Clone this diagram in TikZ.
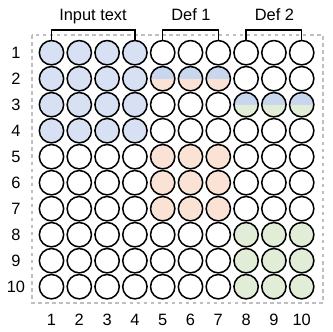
\documentclass[tikz,border=0pt]{standalone}
\usepackage{fontspec}
\setmainfont{Liberation Sans}
\definecolor{tokBlue}{RGB}{215,225,243}
\definecolor{tokBlueHalf}{RGB}{200,214,238}
\definecolor{tokOrange}{RGB}{250,227,212}
\definecolor{tokGreen}{RGB}{225,237,214}

\begin{document}
\begin{tikzpicture}[x=0.3mm,y=-0.3mm,
    tok/.style={circle,draw=black,line width=1.3pt,minimum size=7.3mm,inner sep=0pt},
    halves/.style 2 args={path picture={
        \fill[fill=#1] (path picture bounding box.north west) rectangle (path picture bounding box.east);
        \fill[fill=#2] (path picture bounding box.west) rectangle (path picture bounding box.south east);}},
    lbl/.style={font=\fontsize{14}{16}\selectfont,inner sep=0pt},
    brace/.style={draw=black,line width=1.3pt},
    frame/.style={dashed,draw=gray!50,line width=0.9pt},
  ]
    \useasboundingbox (0,0) rectangle (332,332);

    % Frame
    \draw[frame] (32,35) rectangle (323,303);

    % Tokens
    \foreach \r in {1,...,10}
      \foreach \c in {1,...,10} {
        \def\ct{white}\def\cb{white}
        \ifnum\r<5 \ifnum\c<5 \def\ct{tokBlue}\def\cb{tokBlue}\fi\fi
        \ifnum\r=2 \ifnum\c>4 \ifnum\c<8 \def\ct{tokBlueHalf}\def\cb{tokOrange}\fi\fi\fi
        \ifnum\r=3 \ifnum\c>7 \def\ct{tokBlueHalf}\def\cb{tokGreen}\fi\fi
        \ifnum\r>4 \ifnum\r<8 \ifnum\c>4 \ifnum\c<8 \def\ct{tokOrange}\def\cb{tokOrange}\fi\fi\fi\fi
        \ifnum\r>7 \ifnum\c>7 \def\ct{tokGreen}\def\cb{tokGreen}\fi\fi
        \node[tok,halves={\ct}{\cb}] (t-\r-\c) at ({51.5+27.8*(\c-1)},{52.7+26*(\r-1)}) {};
      }

    % Row and column numbers
    \foreach \r in {1,...,10}
      \node[lbl] (row-\r) at (16,{52.7+26*(\r-1)}) {\r};
    \foreach \c in {1,...,10}
      \node[lbl] (col-\c) at ({51.5+27.8*(\c-1)},320) {\c};

    % Groups
    \node[lbl,anchor=base] (grp-in)   at (93,20.5)  {Input text};
    \node[lbl,anchor=base] (grp-def1) at (191,20.5) {Def 1};
    \node[lbl,anchor=base] (grp-def2) at (274.5,20.5) {Def 2};
    \draw[brace] (t-1-1.north) -- ++(0,-10) -| (t-1-4.north);
    \draw[brace] (t-1-5.north) -- ++(0,-10) -| (t-1-7.north);
    \draw[brace] (t-1-8.north) -- ++(0,-10) -| (t-1-10.north);

  \end{tikzpicture}
\end{document}
